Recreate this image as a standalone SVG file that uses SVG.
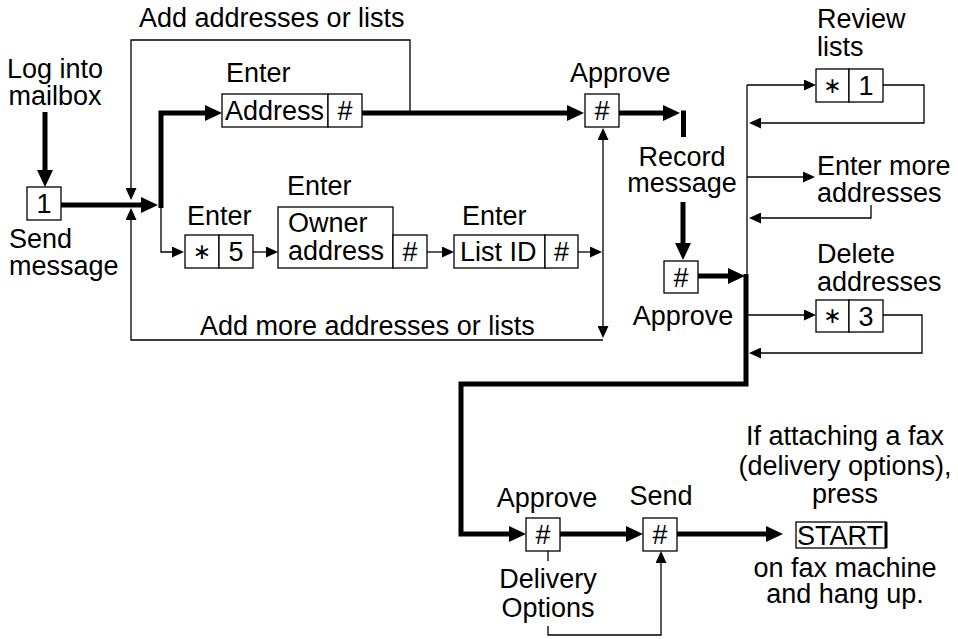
<svg xmlns="http://www.w3.org/2000/svg" width="958" height="639" viewBox="0 0 958 639">
<defs>
<style>
.t{font-family:"Liberation Sans",Arial,sans-serif;font-size:27px;fill:#000}
.m{text-anchor:middle}
.s{font-family:"DejaVu Sans","Liberation Sans",sans-serif;font-size:22px;fill:#000;text-anchor:middle}
.box{fill:#fff;stroke:#000;stroke-width:1.3}
.thin{fill:none;stroke:#000;stroke-width:1.3}
.thick{fill:none;stroke:#000;stroke-width:5;stroke-linejoin:miter}
.ta{marker-end:url(#ah)}
.na{marker-end:url(#an)}
</style>
<marker id="ah" viewBox="0 0 17 16" refX="7" refY="8" markerWidth="17" markerHeight="16" markerUnits="userSpaceOnUse" orient="auto"><path d="M0,0 L17,8 L0,16 Z" fill="#000"/></marker>
<marker id="an" viewBox="0 0 12 11" refX="9" refY="5.5" markerWidth="12" markerHeight="11" markerUnits="userSpaceOnUse" orient="auto"><path d="M0,0 L12,5.5 L0,11 Z" fill="#000"/></marker>
</defs>
<rect width="958" height="639" fill="#fff"/>

<g id="connectors">
<path class="thick ta" d="M45,112 V177"/>
<path class="thick ta" d="M61,205 H148"/>
<path class="thick ta" d="M161,208 V113 H212"/>
<path class="thick ta" d="M362,113 H574"/>
<path class="thick ta" d="M619,113 H670"/>
<path class="thick" d="M683.5,110.5 V137"/>
<path class="thick ta" d="M683,202 V250"/>
<path class="thick ta" d="M698,276 H735"/>
<path class="thick ta" d="M746,274 V384 H461 V534 H516"/>
<path class="thick ta" d="M560,534 H633"/>
<path class="thick ta" d="M677,534 H773"/>

<path class="thin na" d="M410,113 V40 H131 V197"/>
<path class="thin na" d="M603,340 H131 V211"/>
<path class="thin na" d="M603,252 V131"/>
<path class="thin na" d="M603,252 V335"/>
<path class="thin na" d="M161,208 V252 H181"/>
<path class="thin na" d="M253,252 H275"/>
<path class="thin na" d="M427,252 H451"/>
<path class="thin na" d="M578,252 H599"/>
<path class="thin" d="M747,85 V277"/>
<path class="thin na" d="M747,85 H813"/>
<path class="thin na" d="M747,177 H812"/>
<path class="thin na" d="M747,315 H813"/>
<path class="thin na" d="M883,85 H924 V123 H752"/>
<path class="thin na" d="M871,205 V218 H752"/>
<path class="thin na" d="M883,315 H922 V353 H752"/>
<path class="thin" d="M548,551 V561"/>
<path class="thin na" d="M548,626 V635 H661 V554"/>
</g>

<g id="log-into">
<text class="t m" x="55" y="78">Log into</text>
<text class="t m" x="55" y="105">mailbox</text>
</g>
<g id="send-message">
<rect class="box" x="27" y="187" width="34" height="33"/>
<text class="t m" x="44" y="213">1</text>
<text class="t" x="9" y="248">Send</text>
<text class="t" x="9" y="275">message</text>
</g>
<g id="add-label">
<text class="t" x="139" y="27">Add addresses or lists</text>
</g>
<g id="enter-address">
<text class="t" x="226" y="82">Enter</text>
<rect class="box" x="222" y="94" width="106" height="33"/>
<text class="t" x="225" y="120">Address</text>
<rect class="box" x="328" y="94" width="34" height="33"/>
<text class="t m" x="345" y="120">#</text>
</g>
<g id="approve-1">
<text class="t" x="570" y="82">Approve</text>
<rect class="box" x="585" y="94" width="34" height="33"/>
<text class="t m" x="602" y="120">#</text>
</g>
<g id="enter-star5">
<text class="t" x="187" y="225">Enter</text>
<rect class="box" x="185" y="235" width="34" height="33"/>
<text class="s" x="202" y="259">∗</text>
<rect class="box" x="219" y="235" width="34" height="33"/>
<text class="t m" x="236" y="261">5</text>
</g>
<g id="enter-owner">
<text class="t" x="287" y="195">Enter</text>
<rect class="box" x="278" y="207" width="115" height="61"/>
<text class="t" x="288" y="232">Owner</text>
<text class="t" x="288" y="260">address</text>
<rect class="box" x="393" y="235" width="34" height="33"/>
<text class="t m" x="410" y="261">#</text>
</g>
<g id="enter-listid">
<text class="t" x="462" y="225">Enter</text>
<rect class="box" x="454" y="235" width="91" height="33"/>
<text class="t" x="460" y="261">List ID</text>
<rect class="box" x="545" y="235" width="33" height="33"/>
<text class="t m" x="561.5" y="261">#</text>
</g>
<g id="add-more-label">
<text class="t" x="200" y="335">Add more addresses or lists</text>
</g>
<g id="record-message">
<text class="t m" x="682" y="166">Record</text>
<text class="t m" x="682" y="192">message</text>
</g>
<g id="approve-2">
<rect class="box" x="664" y="261" width="34" height="32"/>
<text class="t m" x="681" y="287">#</text>
<text class="t m" x="683" y="325">Approve</text>
</g>
<g id="review-lists">
<text class="t" x="817" y="28">Review</text>
<text class="t" x="817" y="56">lists</text>
<rect class="box" x="816" y="69" width="33" height="33"/>
<text class="s" x="832.5" y="93">∗</text>
<rect class="box" x="849" y="69" width="34" height="33"/>
<text class="t m" x="866" y="95">1</text>
</g>
<g id="enter-more">
<text class="t" x="817" y="175">Enter more</text>
<text class="t" x="817" y="202">addresses</text>
</g>
<g id="delete-addresses">
<text class="t" x="817" y="263">Delete</text>
<text class="t" x="817" y="291">addresses</text>
<rect class="box" x="816" y="300" width="33" height="32"/>
<text class="s" x="832.5" y="323">∗</text>
<rect class="box" x="849" y="300" width="34" height="32"/>
<text class="t m" x="866" y="326">3</text>
</g>
<g id="approve-3">
<text class="t m" x="547" y="507">Approve</text>
<rect class="box" x="526" y="518" width="34" height="33"/>
<text class="t m" x="543" y="544">#</text>
<text class="t m" x="548" y="588">Delivery</text>
<text class="t m" x="548" y="617">Options</text>
</g>
<g id="send">
<text class="t m" x="661" y="505">Send</text>
<rect class="box" x="643" y="518" width="34" height="33"/>
<text class="t m" x="660" y="544">#</text>
</g>
<g id="start">
<text class="t m" x="845" y="445">If attaching a fax</text>
<text class="t m" x="845" y="475">(delivery options),</text>
<text class="t m" x="845" y="503">press</text>
<rect class="box" x="796" y="522" width="90" height="26"/>
<path d="M886,522 V548" stroke="#000" stroke-width="3"/>
<text class="t m" x="840" y="545">START</text>
<text class="t m" x="845" y="577">on fax machine</text>
<text class="t m" x="845" y="603">and hang up.</text>
</g>
</svg>
